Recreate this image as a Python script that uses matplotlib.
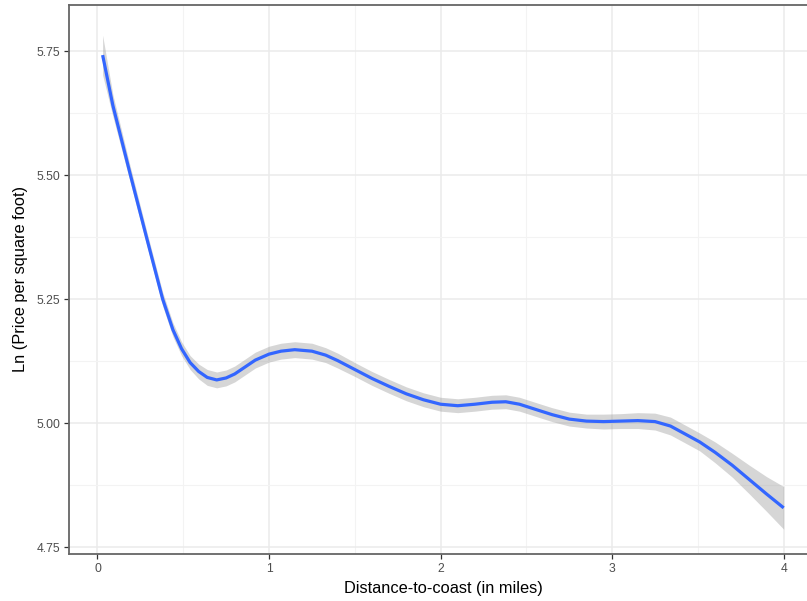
import numpy as np
import matplotlib
matplotlib.use("Agg")
import matplotlib.pyplot as plt
from matplotlib.ticker import MultipleLocator, FixedLocator

plt.rcParams['font.family'] = ['Liberation Sans', 'DejaVu Sans']

# Smoothed fit of log price per square foot against distance to the coast
distance = [0.03, 0.09, 0.19, 0.29, 0.38, 0.44, 0.49, 0.54, 0.59, 0.64,
             0.695, 0.75, 0.80, 0.86, 0.92, 1.00, 1.07, 1.15, 1.25, 1.33,
             1.40, 1.50, 1.60, 1.70, 1.80, 1.90, 2.00, 2.10, 2.20, 2.30,
             2.38, 2.46, 2.55, 2.65, 2.75, 2.85, 2.95, 3.05, 3.15, 3.25,
             3.34, 3.42, 3.51, 3.60, 3.70, 3.80, 3.90, 4.00]
fit = [5.742, 5.640, 5.503, 5.369, 5.250, 5.188, 5.150, 5.122, 5.104, 5.092,
       5.087, 5.091, 5.099, 5.113, 5.127, 5.139, 5.145, 5.148, 5.145, 5.137,
       5.126, 5.108, 5.090, 5.074, 5.059, 5.047, 5.038, 5.035, 5.038, 5.042,
       5.043, 5.038, 5.028, 5.017, 5.008, 5.004, 5.003, 5.004, 5.005, 5.003,
       4.994, 4.979, 4.962, 4.941, 4.915, 4.886, 4.857, 4.829]
# half-width of the 95% confidence band
band = [0.040, 0.022, 0.016, 0.014, 0.014, 0.014, 0.014, 0.014, 0.015, 0.016,
        0.016, 0.016, 0.016, 0.016, 0.016, 0.016, 0.016, 0.016, 0.016, 0.015,
        0.015, 0.014, 0.014, 0.014, 0.014, 0.014, 0.014, 0.014, 0.014, 0.014,
        0.014, 0.014, 0.014, 0.014, 0.014, 0.014, 0.015, 0.015, 0.016, 0.017,
        0.018, 0.018, 0.018, 0.021, 0.024, 0.029, 0.035, 0.043]

x_ticks = [0, 1, 2, 3, 4]
y_ticks = [4.75, 5.00, 5.25, 5.50, 5.75]

x = np.array(distance)
y = np.array(fit)
hw = np.array(band)

fig = plt.figure(figsize=(8.07, 6.01), dpi=100)
ax = fig.add_axes([69 / 807, 1 - 554 / 601, (818 - 69) / 807, (554 - 5) / 601])

ax.fill_between(x, y - hw, y + hw, color='#999999', alpha=0.4, linewidth=0, zorder=2)
ax.plot(x, y, color='#3366FF', linewidth=2.3, solid_capstyle='butt',
        solid_joinstyle='round', zorder=3)

ax.set_xlim(-0.166, 4.2)
ax.set_ylim(4.736, 5.843)

ax.xaxis.set_major_locator(FixedLocator(x_ticks))
ax.yaxis.set_major_locator(FixedLocator(y_ticks))
ax.xaxis.set_minor_locator(MultipleLocator(0.5))
ax.yaxis.set_minor_locator(MultipleLocator(0.125))
ax.set_xticklabels([str(t) for t in x_ticks])
ax.set_yticklabels([f"{t:.2f}" for t in y_ticks])

ax.grid(which='major', color='#EBEBEB', linewidth=1.1, zorder=0)
ax.grid(which='minor', color='#F3F3F3', linewidth=0.8, zorder=0)
ax.set_axisbelow(True)

ax.tick_params(which='major', length=3.5, width=0.9, color='#333333',
               labelcolor='#4D4D4D', labelsize=8.7, pad=3)
ax.tick_params(which='minor', length=0)

for side in ['left', 'bottom', 'top']:
    ax.spines[side].set_color('#666666')
    ax.spines[side].set_linewidth(1.3)
ax.spines['right'].set_visible(False)

ax.set_xlabel('Distance-to-coast (in miles)', fontsize=11.8, labelpad=4)
ax.set_ylabel('Ln (Price per square foot)', fontsize=11.8, labelpad=6)

fig.savefig('out.png', dpi=100)
